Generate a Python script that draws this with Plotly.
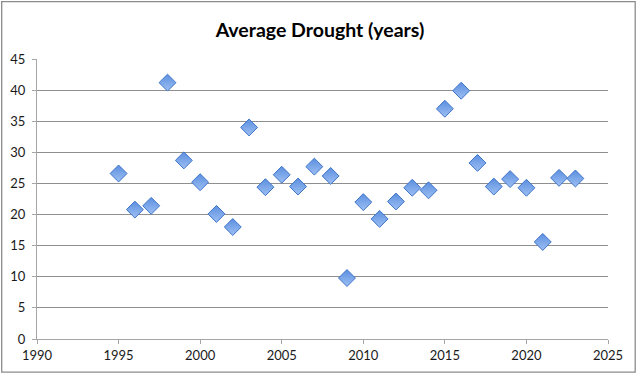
import plotly.graph_objects as go

years = [1995, 1996, 1997, 1998, 1999, 2000, 2001, 2002, 2003, 2004, 2005, 2006, 2007, 2008,
         2009, 2010, 2011, 2012, 2013, 2014, 2015, 2016, 2017, 2018, 2019, 2020, 2021, 2022, 2023]
drought = [26.6, 20.8, 21.4, 41.2, 28.7, 25.2, 20.1, 18.0, 34.0, 24.4, 26.4, 24.5, 27.7, 26.2,
           9.8, 22.0, 19.3, 22.1, 24.3, 23.9, 37.0, 39.9, 28.3, 24.5, 25.7, 24.3, 15.6, 25.9, 25.8]
title_text = "Average Drought (years)"
x_ticks = [1990, 1995, 2000, 2005, 2010, 2015, 2020, 2025]
y_ticks = [0, 5, 10, 15, 20, 25, 30, 35, 40, 45]

W, H = 640, 376
L, R, T, B = 37.3, 31.7, 59.3, 36.7
pw, ph = W - L - R, H - T - B

def px_to_paper_x(px):
    return (px - L) / pw

def px_to_paper_y(py):
    return (H - B - py) / ph

fig = go.Figure()
fig.add_trace(go.Scatter(
    x=years, y=drought, mode="markers",
    marker=dict(symbol="diamond", size=13, color="#5b8fdf",
                gradient=dict(type="vertical", color="#9dbff3"),
                line=dict(color="#3f74c8", width=1)),
    showlegend=False, hoverinfo="x+y"))

fig.update_layout(
    width=W, height=H,
    margin=dict(l=L, r=R, t=T, b=B, autoexpand=False),
    paper_bgcolor="white", plot_bgcolor="white",
    font=dict(family="Lato, 'Open Sans', sans-serif", size=13, color="#1a1a1a"),
    title=dict(text="<b>" + title_text + "</b>", x=0.5, xanchor="center",
               y=1 - 30 / H, yanchor="middle",
               font=dict(size=19.5, family="Lato, 'Open Sans', sans-serif", color="black")),
    xaxis=dict(range=[1990, 2025], tickvals=x_ticks, ticktext=[str(v) for v in x_ticks],
               showgrid=False, zeroline=False, showline=True, linecolor="#a6a6a6", linewidth=1,
               ticks="outside", ticklen=4, tickcolor="#a6a6a6", tickfont=dict(size=13)),
    yaxis=dict(range=[0, 45], tickvals=y_ticks, ticktext=[str(v) for v in y_ticks],
               showgrid=True, gridcolor="#8f8f8f", gridwidth=1, zeroline=False,
               showline=True, linecolor="#a6a6a6", linewidth=1,
               ticks="outside", ticklen=4, tickcolor="#a6a6a6", tickfont=dict(size=13),
               ticklabelstandoff=4),
    shapes=[dict(type="rect", xref="paper", yref="paper",
                 x0=px_to_paper_x(2), x1=px_to_paper_x(635.5),
                 y0=px_to_paper_y(372.5), y1=px_to_paper_y(2),
                 line=dict(color="#8c8c8c", width=1.3), fillcolor="rgba(0,0,0,0)", layer="below")],
)

fig.write_html("out.html", config={"displayModeBar": False},
               post_script="document.body.style.margin='0';")
